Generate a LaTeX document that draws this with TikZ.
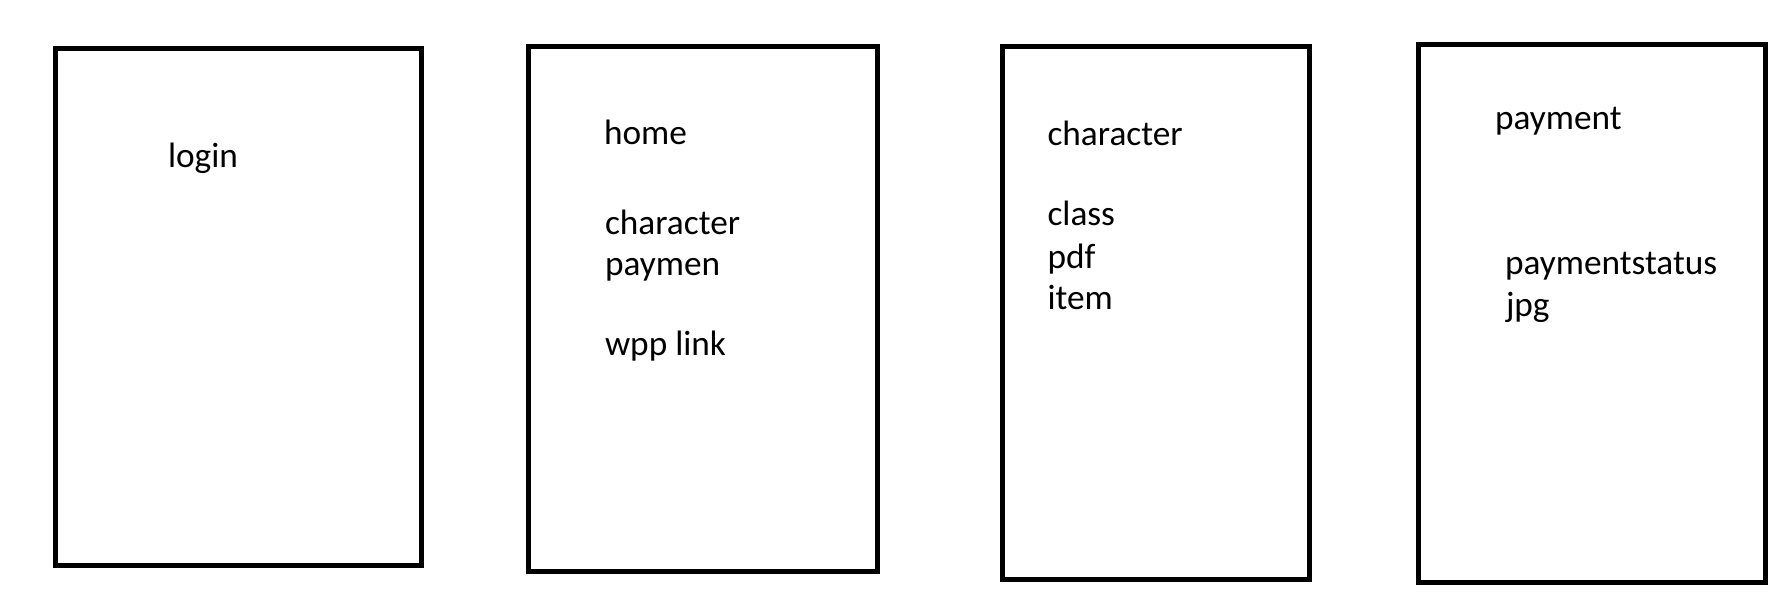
\documentclass[tikz,border=0pt]{standalone}
\usepackage{fontspec}
\setmainfont{Carlito}
\begin{document}
\begin{tikzpicture}[x=1pt,y=-1pt,
  screen/.style={draw=black, line width=5pt, inner sep=0pt, fill=none},
  lbl/.style={anchor=base west, inner sep=0pt, outer sep=0pt, font=\fontsize{35.3}{42}\selectfont}]
\useasboundingbox[fill=white] (0,0) rectangle (1784,605);
% screens
\node[screen, minimum width=365.8pt, minimum height=516.5pt] (login) at (238.4,306.75) {};
\node[screen, minimum width=349.3pt, minimum height=524.5pt] (home) at (702.65,309.05) {};
\node[screen, minimum width=306.5pt, minimum height=532.7pt] (charscr) at (1155.75,312.85) {};
\node[screen, minimum width=346.5pt, minimum height=538.1pt] (payscr) at (1591.75,313.25) {};
% login
\node[lbl] (tlogin) at (168,167.5) {login};
% home
\node[lbl] (thome) at (604,144) {home};
\node[lbl] (thchar) at (605,234) {character};
\node[lbl] (thpay) at (605,275.8) {paymen};
\node[lbl] (thwpp) at (605,355.5) {wpp link};
% character
\node[lbl] (tcchar) at (1047.5,145.8) {character};
\node[lbl] (tcclass) at (1047.5,225.2) {class};
\node[lbl] (tcpdf) at (1047.5,268.2) {pdf};
\node[lbl] (tcitem) at (1047.5,309.8) {item};
% payment
\node[lbl] (tppay) at (1495,129.2) {payment};
\node[lbl] (tpstat) at (1505,274.2) {paymentstatus};
\node[lbl] (tpjpg) at (1506,316.2) {jpg};
\end{tikzpicture}
\end{document}
